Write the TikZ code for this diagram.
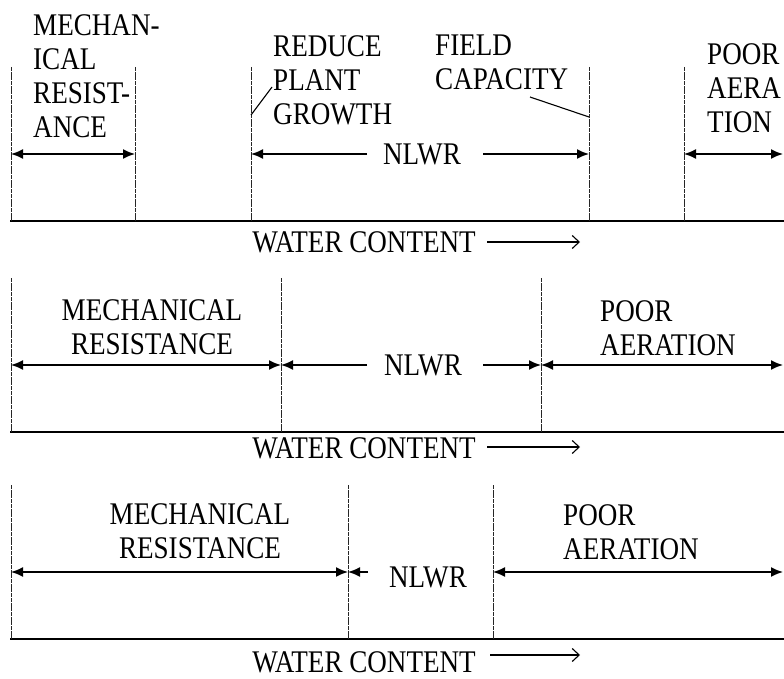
\documentclass[tikz,border=0pt]{standalone}
\usepackage{fontspec}
\setmainfont{Liberation Serif}[FakeStretch=0.86]
\usetikzlibrary{arrows.meta}
\begin{document}
\begin{tikzpicture}[x=1pt,y=-1pt,
 lbl/.style={font=\fontsize{31.5}{34}\selectfont, inner sep=0pt},
 axisline/.style={line width=1.9pt},
 divider/.style={line width=0.8pt, dash pattern=on 4pt off 0.7pt, black!85},
 span/.style={line width=1.6pt, {Latex[length=12pt,width=10pt]}-{Latex[length=12pt,width=10pt]}},
 half/.style={line width=1.6pt, -{Latex[length=12pt,width=10pt]}},
 leader/.style={line width=1.1pt},
 dirarrow/.style={line width=1.1pt, -{Straight Barb[length=7pt,width=13pt]}}]
\useasboundingbox (0,0) rectangle (784,679);
\clip (0,0) rectangle (784,679);

% ---------- Panel 1 ----------
\coordinate (a1l) at (10,221); \coordinate (a1r) at (790,221);
\draw[axisline] (a1l) -- (a1r);
\foreach \n/\x in {p1a/11,p1b/135,p1c/251,p1d/589,p1e/684}{
  \coordinate (\n t) at (\x,67); \coordinate (\n b) at (\x,221);
  \draw[divider] (\n t) -- (\n b);
  \coordinate (\n m) at (\x,154);
}
\coordinate (p1rm) at (783,154);
\node[lbl, anchor=west, align=left] (mech1) at (33,76) {MECHAN-\\ICAL\\RESIST-\\ANCE};
\node[lbl, anchor=west, align=left] (reduce) at (273,80) {REDUCE\\PLANT\\GROWTH};
\node[lbl, anchor=west, align=left] (field) at (435,62) {FIELD\\CAPACITY};
\node[lbl, anchor=west, align=left] (poor1) at (707,88) {POOR\\AERA\\TION};
\node[lbl] (nlwr1) at (422,154) {NLWR};
\draw[span] (p1am) -- (p1bm);
\coordinate (n1l) at (367,154); \coordinate (n1r) at (483,154);
\draw[half] (n1l) -- (p1cm);
\draw[half] (n1r) -- (p1dm);
\draw[span] (p1em) -- (p1rm);
\coordinate (rl1) at (272,87); \coordinate (rl2) at (251,115);
\draw[leader] (rl1) -- (rl2);
\coordinate (fl1) at (530,97); \coordinate (fl2) at (589,117);
\draw[leader] (fl1) -- (fl2);
\node[lbl] (water1) at (364,242) {WATER CONTENT};
\coordinate (w1a) at (487,242); \coordinate (w1b) at (580,242);
\draw[dirarrow] (w1a) -- (w1b);

% ---------- Panel 2 ----------
\coordinate (a2l) at (10,432); \coordinate (a2r) at (790,432);
\draw[axisline] (a2l) -- (a2r);
\foreach \n/\x in {p2a/11,p2b/281,p2c/541}{
  \coordinate (\n t) at (\x,278); \coordinate (\n b) at (\x,432);
  \draw[divider] (\n t) -- (\n b);
  \coordinate (\n m) at (\x,365);
}
\coordinate (p2rm) at (783,365);
\node[lbl, align=center] (mech2) at (152,327) {MECHANICAL\\RESISTANCE};
\node[lbl, anchor=west, align=left] (poor2) at (600,328) {POOR\\AERATION};
\node[lbl] (nlwr2) at (423,365) {NLWR};
\coordinate (n2l) at (367,365); \coordinate (n2r) at (483,365);
\draw[span] (p2am) -- (p2bm);
\draw[half] (n2l) -- (p2bm);
\draw[half] (n2r) -- (p2cm);
\draw[span] (p2cm) -- (p2rm);
\node[lbl] (water2) at (364,448) {WATER CONTENT};
\coordinate (w2a) at (487,447); \coordinate (w2b) at (580,447);
\draw[dirarrow] (w2a) -- (w2b);

% ---------- Panel 3 ----------
\coordinate (a3l) at (10,639); \coordinate (a3r) at (790,639);
\draw[axisline] (a3l) -- (a3r);
\foreach \n/\x in {p3a/11,p3b/348,p3c/493}{
  \coordinate (\n t) at (\x,485); \coordinate (\n b) at (\x,639);
  \draw[divider] (\n t) -- (\n b);
  \coordinate (\n m) at (\x,572);
}
\coordinate (p3rm) at (783,572);
\node[lbl, align=center] (mech3) at (200,531) {MECHANICAL\\RESISTANCE};
\node[lbl, anchor=west, align=left] (poor3) at (563,532) {POOR\\AERATION};
\node[lbl] (nlwr3) at (428,577) {NLWR};
\draw[span] (p3am) -- (p3bm);
\coordinate (n3l) at (368,572);
\draw[half] (n3l) -- (p3bm);
\draw[span] (p3cm) -- (p3rm);
\node[lbl] (water3) at (364,662) {WATER CONTENT};
\coordinate (w3a) at (490,655); \coordinate (w3b) at (580,655);
\draw[dirarrow] (w3a) -- (w3b);
\end{tikzpicture}
\end{document}
